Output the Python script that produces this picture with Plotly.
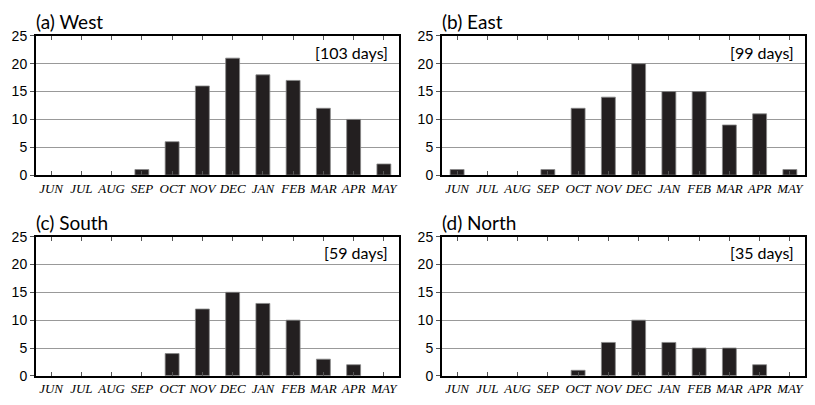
import plotly.graph_objects as go

months = ["JUN", "JUL", "AUG", "SEP", "OCT", "NOV", "DEC", "JAN", "FEB", "MAR", "APR", "MAY"]
west = [0, 0, 0, 1, 6, 16, 21, 18, 17, 12, 10, 2]
east = [1, 0, 0, 1, 12, 14, 20, 15, 15, 9, 11, 1]
south = [0, 0, 0, 0, 4, 12, 15, 13, 10, 3, 2, 0]
north = [0, 0, 0, 0, 1, 6, 10, 6, 5, 5, 2, 0]
titles = ["(a) West", "(b) East", "(c) South", "(d) North"]
totals = ["[103 days]", "[99 days]", "[59 days]", "[35 days]"]
yticks = [0, 5, 10, 15, 20, 25]

W, H = 815, 405
panels = [
    (west, (36, 399), (29, 174)),
    (east, (442, 805), (29, 174)),
    (south, (36, 399), (238, 383)),
    (north, (442, 805), (238, 383)),
]

fig = go.Figure()
layout = dict(
    width=W, height=H, margin=dict(l=0, r=0, t=0, b=0),
    paper_bgcolor="white", plot_bgcolor="white", showlegend=False,
)
annotations = []
for i, (vals, (x0, x1), (y0, y1)) in enumerate(panels):
    n = "" if i == 0 else str(i + 1)
    fig.add_trace(go.Bar(
        x=list(range(len(months))), y=vals, xaxis="x" + n, yaxis="y" + n,
        marker=dict(color="#231f20",
                    line=dict(color="#888888", width=[0.8 if v > 0 else 0 for v in vals])),
        width=0.46,
    ))
    layout["xaxis" + n] = dict(
        domain=[x0 / W, x1 / W], anchor="y" + n, range=[-0.5, 11.5],
        tickmode="array", tickvals=list(range(len(months))), ticktext=months,
        ticks="inside", ticklen=4, tickcolor="#555", tickwidth=1,
        showline=True, linecolor="black", linewidth=2, mirror="ticks",
        showgrid=False, zeroline=False,
        tickfont=dict(family="Liberation Serif", size=13, color="black", style="italic"),
    )
    layout["yaxis" + n] = dict(
        domain=[1 - y1 / H, 1 - y0 / H], anchor="x" + n, range=[0, 25],
        tickmode="array", tickvals=yticks,
        ticks="outside", ticklen=4, tickcolor="#555",
        showline=True, linecolor="black", linewidth=2, mirror=True,
        showgrid=True, gridcolor="#999999", gridwidth=1, zeroline=False,
        tickfont=dict(family="Liberation Sans", size=14, color="black"),
    )
    annotations.append(dict(
        x=x0 / W - 0.002, y=1 - (y0 - 1) / H, xref="paper", yref="paper",
        xanchor="left", yanchor="bottom", text=titles[i], showarrow=False,
        font=dict(family="Lato", size=19, color="black"),
    ))
    annotations.append(dict(
        x=(x1 - 9) / W, y=1 - (y0 + 17) / H, xref="paper", yref="paper",
        xanchor="right", yanchor="middle", text=totals[i], showarrow=False,
        font=dict(family="Lato", size=16, color="black"),
    ))
layout["annotations"] = annotations
fig.update_layout(**layout)
fig.write_html("out.html", config={"displayModeBar": False},
               post_script="document.body.style.margin='0';")
